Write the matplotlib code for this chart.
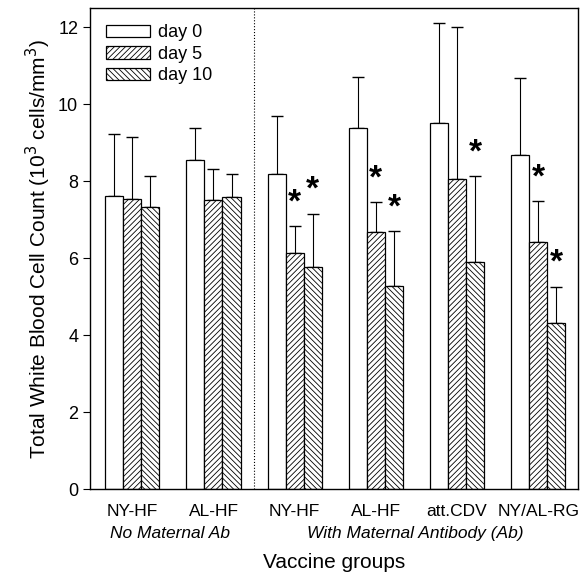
import numpy as np
import matplotlib
matplotlib.use("Agg")
import matplotlib.pyplot as plt

plt.rcParams["font.family"] = ["Liberation Sans", "DejaVu Sans"]
plt.rcParams["hatch.linewidth"] = 0.6

# Data
groups = ["NY-HF", "AL-HF", "NY-HF", "AL-HF", "att.CDV", "NY/AL-RG"]
days = ["day 0", "day 5", "day 10"]
day0 = [7.61, 8.54, 8.18, 9.39, 9.51, 8.69]
day5 = [7.55, 7.52, 6.14, 6.68, 8.05, 6.41]
day10 = [7.33, 7.59, 5.76, 5.28, 5.90, 4.32]
err0 = [1.61, 0.83, 1.52, 1.32, 2.59, 1.99]
err5 = [1.60, 0.79, 0.70, 0.78, 3.96, 1.08]
err10 = [0.81, 0.61, 1.40, 1.42, 2.23, 0.94]
# significance markers (group, day index)
stars = [(2, 1), (2, 2), (3, 1), (3, 2), (4, 2), (5, 1), (5, 2)]

means = [day0, day5, day10]
errs = [err0, err5, err10]
hatches = ["", "//////", "\\\\\\\\\\\\"]

fig = plt.figure(figsize=(5.81, 5.76), dpi=100)
ax = fig.add_axes([0.155, 0.151, 0.84, 0.835])

x = np.arange(len(groups))
w = 0.222
for k in range(3):
    pos = x + (k - 1) * w
    ax.bar(pos, means[k], width=w, color="white", edgecolor="black",
           linewidth=0.9, hatch=hatches[k], label=days[k], zorder=2)
    ax.errorbar(pos, means[k], yerr=[np.zeros(len(groups)), errs[k]],
                fmt="none", ecolor="black", elinewidth=0.8, capsize=4,
                capthick=1.0, zorder=1)

for g, k in stars:
    xs = x[g] + (k - 1) * w
    ys = means[k][g] + errs[k][g]
    ax.text(xs, ys + 0.2, "*", ha="center", va="bottom", fontsize=24,
            fontweight="bold")

ax.axvline(1.5, color="black", linestyle=":", linewidth=0.8)

ax.set_xlim(-0.52, 5.49)
ax.set_ylim(0, 12.5)
ax.set_yticks([0, 2, 4, 6, 8, 10, 12])
ax.tick_params(axis="y", which="major", direction="out", length=5, labelsize=13)
ax.set_xticks(x)
ax.set_xticklabels(groups, fontsize=12.5)
ax.tick_params(axis="x", length=0, pad=11)

ax.set_ylabel("Total White Blood Cell Count (10$^3$ cells/mm$^3$)", fontsize=15)
ax.set_xlabel("Vaccine groups", fontsize=15, labelpad=24)

ax.text(0.46, -0.092, "No Maternal Ab", transform=ax.get_xaxis_transform(),
        ha="center", va="center", fontsize=12.5, style="italic")
ax.text(3.49, -0.092, "With Maternal Antibody (Ab)", transform=ax.get_xaxis_transform(),
        ha="center", va="center", fontsize=12.5, style="italic")

leg = ax.legend(loc="upper left", bbox_to_anchor=(0.0, 1.0), frameon=False,
                fontsize=13, handlelength=2.4, handleheight=0.7,
                labelspacing=0.25, handletextpad=0.45)

for s in ax.spines.values():
    s.set_linewidth(1.0)

fig.savefig("out.png", dpi=100)
